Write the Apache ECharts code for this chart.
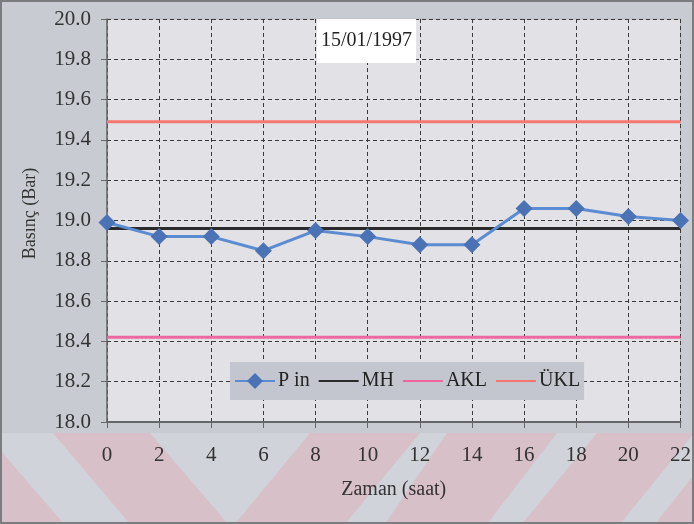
<!DOCTYPE html>
<html>
<head>
<meta charset="utf-8">
<script src="https://cdn.jsdelivr.net/npm/echarts@6/dist/echarts.min.js"></script>
<style>html,body{margin:0;padding:0;background:#c8cbd2;}#c{width:694px;height:524px;}</style>
</head>
<body>
<div id="c"></div>
<script>
var hours = [0, 2, 4, 6, 8, 10, 12, 14, 16, 18, 20, 22];
var pIn = [18.99, 18.92, 18.92, 18.85, 18.95, 18.92, 18.88, 18.88, 19.06, 19.06, 19.02, 19.00];
var mhValue = 18.96;
var aklValue = 18.42;
var uklValue = 19.49;
var yTicks = [18.0, 18.2, 18.4, 18.6, 18.8, 19.0, 19.2, 19.4, 19.6, 19.8, 20.0];
var dateLabel = '15/01/1997';

function flat(v) { return hours.map(function (h) { return [h, v]; }); }
var font = '"Liberation Serif", "Times New Roman", serif';
var pink = '#d8c0c8';
var light = '#d0d3d9';

var chart = echarts.init(document.getElementById('c'));
chart.setOption({
  backgroundColor: '#c8cbd2',
  animation: false,
  textStyle: { fontFamily: font },
  title: {
    text: dateLabel, left: 317, top: 19, backgroundColor: '#ffffff',
    padding: [12, 4, 12, 4], z: 10,
    textStyle: { fontFamily: font, fontSize: 20, fontWeight: 'normal', color: '#222' }
  },
  graphic: [
    { type: 'rect', z: -11, shape: { x: 0, y: 433, width: 694, height: 91 }, style: { fill: light } },
    { type: 'polygon', z: -10, shape: { points: [[0,450],[0,524],[64,524]] }, style: { fill: pink } },
    { type: 'polygon', z: -10, shape: { points: [[53,433],[150,433],[228,524],[130,524]] }, style: { fill: pink } },
    { type: 'polygon', z: -10, shape: { points: [[235,524],[345,524],[420,433],[310,433]] }, style: { fill: pink } },
    { type: 'polygon', z: -10, shape: { points: [[385,524],[487,524],[557,433],[447,433]] }, style: { fill: pink } },
    { type: 'polygon', z: -10, shape: { points: [[522,524],[620,524],[694,433],[597,433]] }, style: { fill: pink } },
    { type: 'polygon', z: -10, shape: { points: [[655,524],[694,524],[694,475]] }, style: { fill: pink } },
    { type: 'rect', z: 20, shape: { x: 1, y: 1, width: 692, height: 522 }, style: { fill: 'none', stroke: '#7a7c80', lineWidth: 2 } }
  ],
  legend: {
    left: 230, top: 362, width: 370,
    backgroundColor: '#c3c6ce', padding: [9, 4, 9, 4],
    itemWidth: 40, itemHeight: 20, itemGap: 8,
    textStyle: { fontFamily: font, fontSize: 20, color: '#222', padding: [0, 0, 0, -2] },
    data: [
      { name: 'P in' },
      { name: 'MH', itemStyle: { opacity: 0 } },
      { name: 'AKL', itemStyle: { opacity: 0 } },
      { name: 'ÜKL', itemStyle: { opacity: 0 } }
    ]
  },
  grid: {
    left: 107, right: 10, top: 19, bottom: 102,
    show: true, backgroundColor: '#e2e1e5', borderColor: '#b8b9be', borderWidth: 1
  },
  xAxis: {
    type: 'value', min: 0, max: 22, interval: 2,
    name: 'Zaman (saat)', nameLocation: 'middle', nameGap: 58,
    nameTextStyle: { fontFamily: font, fontSize: 20, color: '#333' },
    axisLine: { lineStyle: { color: '#666', width: 2 } },
    axisTick: { show: true, length: 6, lineStyle: { color: '#666', width: 1 } },
    axisLabel: { margin: 23, fontFamily: font, fontSize: 21, color: '#333' },
    splitLine: { show: true, lineStyle: { color: '#3a3a3a', type: [4, 3], width: 1 } }
  },
  yAxis: {
    type: 'value', min: 18, max: 20, interval: 0.2,
    name: 'Basınç (Bar)', nameLocation: 'middle', nameGap: 68,
    nameTextStyle: { fontFamily: font, fontSize: 18, color: '#333', padding: [0, 0, 0, 14] },
    axisLine: { show: true, lineStyle: { color: '#666', width: 1.5 } },
    axisTick: { show: true, length: 6, lineStyle: { color: '#666' } },
    axisLabel: { margin: 16, fontFamily: font, fontSize: 21, color: '#333',
      formatter: function (v) { return v.toFixed(1); } },
    splitLine: { show: true, lineStyle: { color: '#3a3a3a', type: [4, 3], width: 1 } }
  },
  series: [
    { name: 'P in', type: 'line', z: 5, data: hours.map(function (h, i) { return [h, pIn[i]]; }),
      symbol: 'diamond', symbolSize: 17, showAllSymbol: true,
      lineStyle: { color: '#5b8bd0', width: 3 }, itemStyle: { color: '#4a72b4' } },
    { name: 'MH', type: 'line', z: 3, data: flat(mhValue), showSymbol: false, symbol: 'none',
      lineStyle: { color: '#2b2b2b', width: 3 }, itemStyle: { color: '#2b2b2b' } },
    { name: 'AKL', type: 'line', z: 3, data: flat(aklValue), showSymbol: false, symbol: 'none',
      lineStyle: { color: '#f0679f', width: 3 }, itemStyle: { color: '#f0679f' } },
    { name: 'ÜKL', type: 'line', z: 3, data: flat(uklValue), showSymbol: false, symbol: 'none',
      lineStyle: { color: '#f5776f', width: 3 }, itemStyle: { color: '#f5776f' } }
  ]
});
</script>
</body>
</html>
